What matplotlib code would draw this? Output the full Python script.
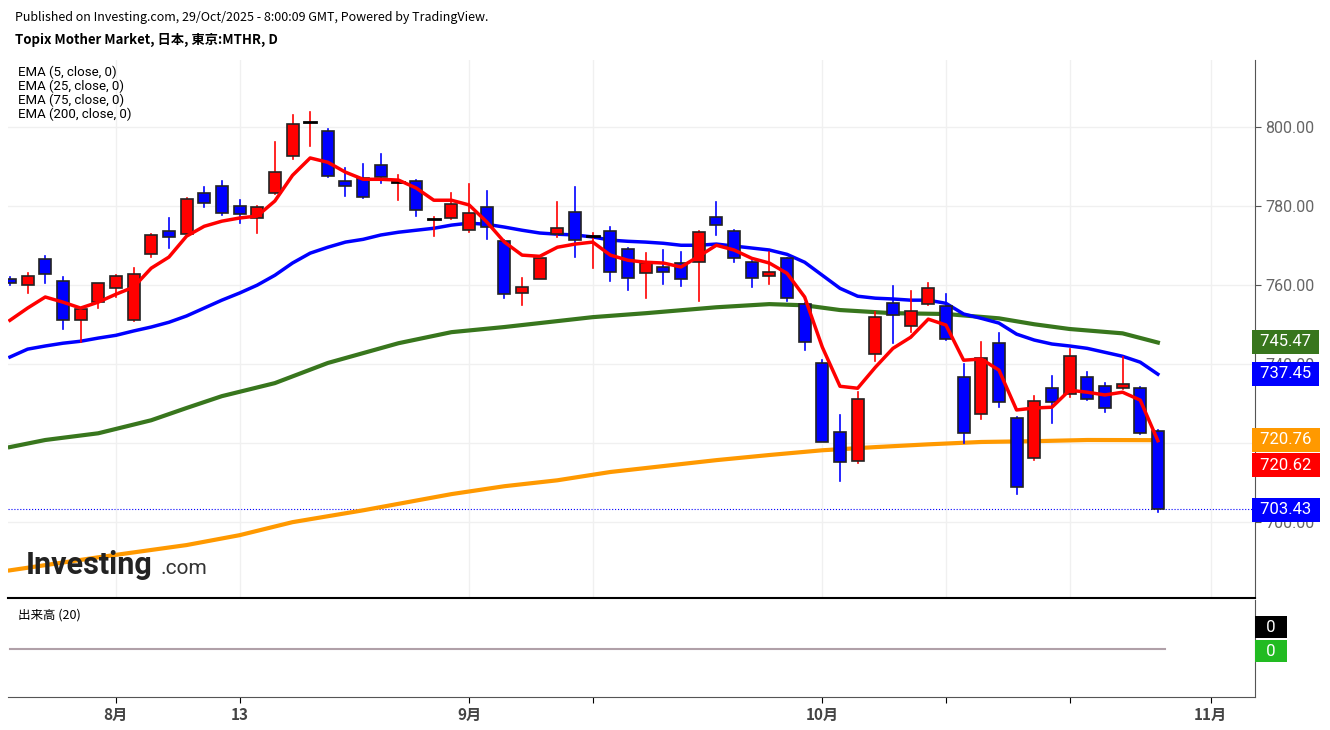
import matplotlib
matplotlib.use("Agg")
import matplotlib.pyplot as plt
from matplotlib.patches import Rectangle
import numpy as np

plt.rcParams['font.family'] = ['Noto Sans CJK JP', 'DejaVu Sans']

opens  = [761.5,760.0,766.6,761.0,751.1,755.7,759.2,751.1,767.8,773.7,772.9,783.3,785.1,780.0,777.0,783.3,792.7,801.3,799.0,786.3,
          787.1,790.4,786.1,786.3,776.7,777.0,773.9,779.7,771.1,758.0,761.5,772.9,778.5,772.4,773.7,769.1,763.0,764.6,765.6,765.8,
          777.2,773.7,765.8,762.3,766.8,755.2,740.3,722.8,715.4,742.5,755.4,749.6,755.2,754.7,736.7,727.3,745.3,726.3,716.2,733.9,
          732.4,736.7,734.4,733.9,733.9,723.0]
closes = [760.5,762.3,762.8,751.1,753.9,760.5,762.3,762.8,772.7,772.2,781.8,780.8,778.2,778.0,779.7,788.6,800.8,801.3,787.6,785.1,
          782.3,787.3,786.1,779.0,776.7,780.5,778.2,774.7,757.7,759.5,766.8,774.4,771.4,772.4,763.3,761.8,765.6,763.3,761.5,773.4,
          775.2,766.8,761.8,763.3,756.7,745.6,720.3,715.2,731.1,751.9,752.4,753.4,759.2,746.3,722.5,741.5,730.4,708.9,730.6,730.4,
          742.0,731.1,728.9,734.9,722.5,703.43]
highs  = [762.0,763.0,767.3,762.0,751.8,756.0,762.5,764.3,773.0,777.0,782.1,784.8,786.3,781.5,780.0,796.2,803.0,803.8,799.5,789.6,
          790.6,793.2,787.8,786.6,777.2,783.3,785.6,783.8,771.4,761.8,767.0,781.0,784.8,773.2,774.7,769.5,768.1,768.9,768.4,773.6,
          781.0,774.0,766.0,768.4,767.0,755.5,741.0,727.1,732.9,753.2,759.7,758.5,760.5,757.7,740.0,745.6,747.8,726.6,732.0,737.0,
          743.8,738.0,735.2,741.8,734.2,723.3]
lows   = [760.0,758.0,760.5,749.0,745.6,754.2,757.0,750.8,767.2,769.4,772.6,779.7,777.7,775.7,773.2,783.0,792.0,795.2,787.3,782.5,
          782.0,785.8,781.5,777.5,772.4,776.7,773.4,771.6,756.7,754.9,764.5,772.2,767.1,764.3,761.0,758.7,756.7,760.3,759.7,756.0,
          772.7,765.8,759.5,760.3,756.0,743.5,721.0,710.4,715.0,740.8,745.3,748.1,755.0,746.0,720.0,726.1,729.1,707.1,715.8,725.1,
          731.8,730.8,727.8,733.6,722.2,702.5]

ema5 = [751.1,754.2,757.0,755.7,754.2,755.7,757.7,759.5,764.3,767.1,772.4,774.9,776.2,777.0,777.5,781.3,787.8,792.2,791.1,788.6,
        786.8,786.8,786.6,784.6,781.5,781.5,780.3,776.0,770.9,767.6,767.3,769.6,770.4,770.9,767.6,766.3,765.8,765.6,764.6,767.3,
        770.1,768.9,766.8,765.6,763.0,757.0,744.3,734.4,733.9,739.2,744.0,746.8,751.4,749.9,741.0,741.3,738.5,728.4,728.9,729.1,
        733.4,732.9,732.2,732.9,730.9,720.62]
ema25 = [741.8,743.8,744.6,745.3,745.8,746.6,747.3,748.4,749.4,750.6,752.2,754.2,756.2,758.0,760.0,762.5,765.6,768.1,769.6,770.9,
         771.6,772.7,773.4,773.9,774.4,775.2,775.7,775.4,774.7,773.9,773.2,772.9,772.7,772.2,771.4,771.1,770.9,770.6,770.1,770.1,
         770.4,769.9,769.4,768.9,767.8,765.8,762.5,759.2,757.2,756.7,756.5,756.2,756.2,755.4,752.7,751.6,750.4,747.6,746.1,745.1,
         744.6,744.0,743.0,742.0,740.5,737.45]
ema75_idx = [0,2,5,8,10,12,15,18,20,22,25,28,30,33,36,40,43,45,47,50,53,56,58,60,63,65]
ema75 = [719.0,720.8,722.5,725.8,728.9,731.9,735.2,740.3,742.8,745.3,748.1,749.4,750.4,751.9,752.9,754.4,755.2,754.9,753.7,752.9,
         752.7,751.6,750.1,748.9,747.8,745.47]
ema200_idx = [0,5,10,13,16,20,25,28,31,34,37,40,43,46,49,52,55,58,61,65]
ema200 = [687.8,691.1,694.2,696.7,700.0,703.0,707.1,709.1,710.6,712.7,714.2,715.7,717.0,718.2,719.0,719.7,720.3,720.5,720.8,720.76]

tick_pos = [6, 13, 26, 33, 46, 53, 60, 68]
tick_lab = ['8月', '13', '9月', '', '10月', '', '', '11月']

W, H = 1330, 730
fig = plt.figure(figsize=(W/100, H/100), dpi=100)
def ax_rect(l, t, r, b):
    return [l/W, 1-b/H, (r-l)/W, (b-t)/H]
ax = fig.add_axes(ax_rect(8, 60, 1255, 598))
axv = fig.add_axes(ax_rect(8, 600, 1255, 697), sharex=ax)

RED, BLUE = '#ff0000', '#0000ff'
x = np.arange(len(opens))
for i in x:
    o, c, h, l = opens[i], closes[i], highs[i], lows[i]
    col = RED if c > o else (BLUE if c < o else 'black')
    ax.plot([i, i], [l, h], color=col if col != 'black' else RED, lw=1.2, zorder=3)
    b0, b1 = min(o, c), max(o, c)
    if b1 - b0 < 0.4:
        ax.plot([i-0.34, i+0.34], [o, o], color='black', lw=2, zorder=4)
    else:
        ax.add_patch(Rectangle((i-0.34, b0), 0.68, b1-b0, facecolor=col, edgecolor='#222222', lw=1.2, zorder=4))

ax.plot(ema200_idx, ema200, color='#ff9900', lw=3, zorder=2)
ax.plot(ema75_idx, ema75, color='#38761d', lw=3, zorder=2)
ax.plot(x, ema25, color=BLUE, lw=2.5, zorder=2)
ax.plot(x, ema5, color=RED, lw=2.5, zorder=5)
ax.axhline(closes[-1], color=BLUE, lw=0.8, ls=':', zorder=1)

ax.set_xlim(-0.11, 70.5)
ax.set_ylim(680.8, 817)
ax.yaxis.tick_right()
ax.set_yticks([700, 720, 740, 760, 780, 800])
ax.set_yticklabels(['700.00', '', '740.00', '760.00', '780.00', '800.00'], fontsize=11.5, color='#666666', family=['Roboto'])
ax.grid(True, color='#f0f0f0', lw=1)
ax.set_xticks(tick_pos)
ax.tick_params(axis='x', labelbottom=False, length=0)
ax.tick_params(axis='y', length=4, color='#555555')
for s in ['top', 'left']:
    ax.spines[s].set_visible(False)
ax.spines['bottom'].set_color('black'); ax.spines['bottom'].set_linewidth(1.5)
ax.spines['right'].set_color('#555555')

for i, t in enumerate(['EMA (5, close, 0)', 'EMA (25, close, 0)', 'EMA (75, close, 0)', 'EMA (200, close, 0)']):
    ax.text(18/W, 1-(72+14*i)/H, t, transform=fig.transFigure, fontsize=9.5, va='center', family=['Roboto'])

labels = [(745.47, '745.47', '#38761d'), (737.45, '737.45', BLUE), (720.76, '720.76', '#ff9900'),
          (720.62, '720.62', RED), (703.43, '703.43', BLUE)]
ypix = [342, 374, 440, 465, 510]
for (v, s, c), yp in zip(labels, ypix):
    fig.text(1256/W, 1-yp/H, ' ' + s + ' ', fontsize=12, color='white', va='center', ha='left', family=['Roboto'],
             bbox=dict(boxstyle='square,pad=0.25', fc=c, ec='none'))

fig.text(26/W, 1-565/H, 'Investing', fontsize=22, fontweight='bold', color='#222222', va='center', family=['Roboto'])
fig.text(160/W, 1-568/H, '.com', fontsize=15, color='#333333', va='center', family=['Roboto'])

# volume panel
axv.plot([0, 65.4], [0, 0], color='#b0a0a8', lw=1.5)
axv.set_ylim(-1.5, 1.5)
axv.yaxis.tick_right()
axv.set_yticks([])
axv.set_xticks(tick_pos)
axv.set_xticklabels(tick_lab, fontsize=11, fontweight='bold', color='#444444')
axv.tick_params(axis='x', length=4)
for s in ['top', 'left']:
    axv.spines[s].set_visible(False)
axv.spines['right'].set_color('#555555')
axv.spines['bottom'].set_color('#555555')
axv.text(18/W, 1-615/H, '出来高 (20)', transform=fig.transFigure, fontsize=9, va='center')
fig.text(1258/W, 1-627/H, '  0  ', fontsize=12, color='white', va='center', family=['Roboto'],
         bbox=dict(boxstyle='square,pad=0.2', fc='black', ec='none'))
fig.text(1258/W, 1-651/H, '  0  ', fontsize=12, color='white', va='center', family=['Roboto'],
         bbox=dict(boxstyle='square,pad=0.2', fc='#22bb22', ec='none'))

fig.text(15/W, 1-17/H, 'Published on Investing.com, 29/Oct/2025 - 8:00:09 GMT, Powered by TradingView.', fontsize=9, va='center')
fig.text(15/W, 1-40/H, 'Topix Mother Market, 日本, 東京:MTHR, D', fontsize=9.5, fontweight='bold', va='center')

fig.savefig('out.png', dpi=100)
